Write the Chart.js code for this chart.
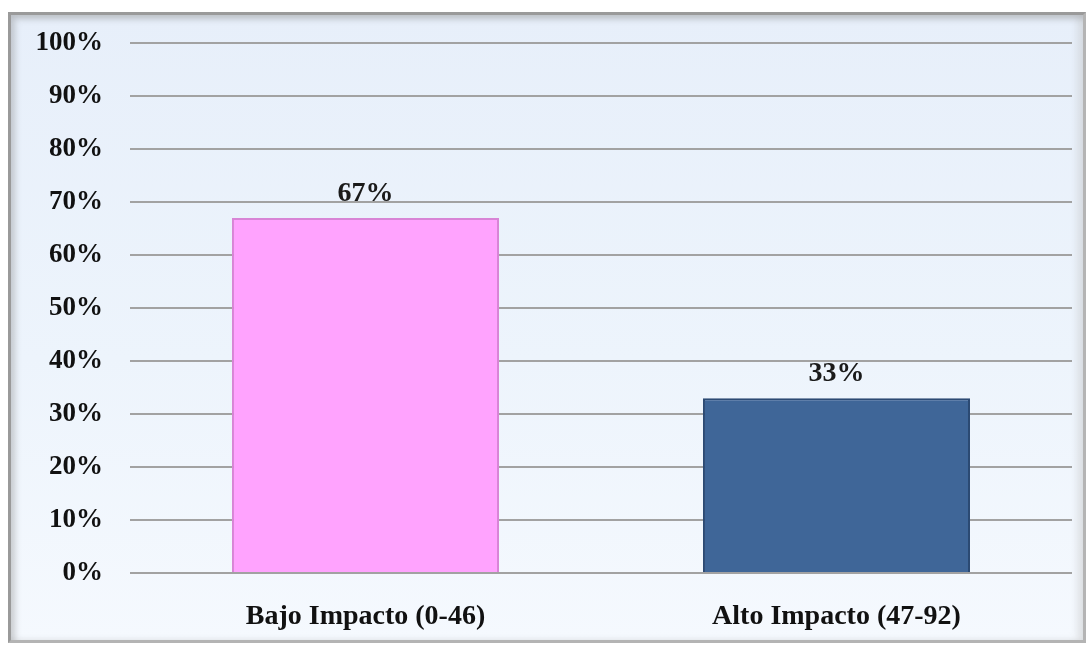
<!DOCTYPE html>
<html>
<head>
<meta charset="utf-8">
<script src="https://cdn.jsdelivr.net/npm/chart.js@4/dist/chart.umd.min.js"></script>
<style>
  html, body { margin: 0; padding: 0; background: #ffffff; }
  #wrap {
    position: absolute; left: 8px; top: 12px;
    width: 1072px; height: 625px;
    border: 3px solid #9a9a9a;
    border-right-color: #b4b4b4; border-bottom-color: #b4b4b4;
    background: linear-gradient(180deg, #e7effa 0%, #edf4fc 55%, #f5f9fe 100%);
    box-shadow: inset 4px 4px 6px rgba(120,120,120,0.35), inset -6px 0 6px rgba(190,190,190,0.35);
  }
  #chart { position: absolute; left: -11px; top: -15px; }
</style>
</head>
<body>
<div id="wrap"><canvas id="chart" width="1086" height="648"></canvas></div>
<script>
const categories = ['Bajo Impacto (0-46)', 'Alto Impacto (47-92)'];
const percentValues = [67, 33];
const barFills = ['#ffa3fe', '#3f6698'];
const barEdges = ['#d884d6', '#2c4a73'];
const tickStep = 10;

const serif = '"Liberation Serif", "Times New Roman", serif';

// value labels above each bar
const valueLabels = {
  id: 'valueLabels',
  afterDatasetsDraw(chart) {
    const ctx = chart.ctx;
    const meta = chart.getDatasetMeta(0);
    ctx.save();
    ctx.font = 'bold 28px ' + serif;
    ctx.fillStyle = '#1a1a1a';
    ctx.textAlign = 'center';
    ctx.textBaseline = 'bottom';
    meta.data.forEach((bar, i) => {
      ctx.fillText(percentValues[i] + '%', bar.x, bar.y - 10);
    });
    ctx.restore();
  }
};

new Chart(document.getElementById('chart'), {
  type: 'bar',
  data: {
    labels: categories,
    datasets: [{
      data: percentValues,
      backgroundColor: barFills,
      borderColor: barEdges,
      borderWidth: 2,
      borderSkipped: 'bottom',
      barPercentage: 0.567,
      categoryPercentage: 1
    }]
  },
  options: {
    responsive: false,
    animation: false,
    layout: { padding: { left: 10, top: 42, right: 14, bottom: 0 } },
    plugins: { legend: { display: false }, tooltip: { enabled: false } },
    scales: {
      x: {
        grid: { display: false },
        border: { display: false },
        ticks: {
          color: '#111',
          font: { family: serif, size: 28, weight: 'bold' },
          padding: 19
        },
        afterFit(scale) { scale.height = 75; }
      },
      y: {
        min: 0, max: 100,
        border: { display: false },
        grid: { color: '#a2a2a2', lineWidth: 2, drawTicks: false },
        ticks: {
          stepSize: tickStep,
          color: '#111',
          font: { family: serif, size: 27, weight: 'bold' },
          padding: 27,
          callback: v => v + '%'
        },
        afterFit(scale) { scale.width = 120; }
      }
    }
  },
  plugins: [valueLabels]
});
</script>
</body>
</html>
